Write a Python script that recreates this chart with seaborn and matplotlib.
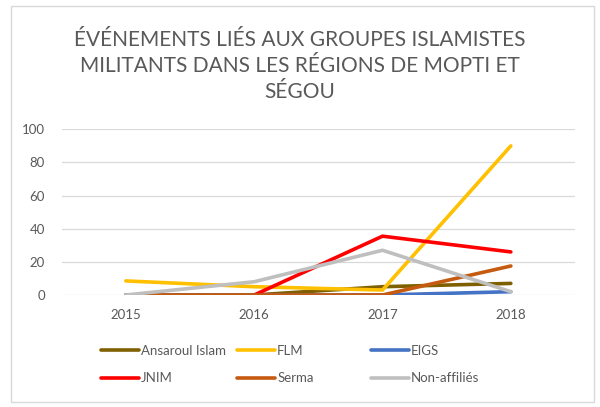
import numpy as np
import pandas as pd
import matplotlib
matplotlib.use("Agg")
import matplotlib.pyplot as plt
from matplotlib.patches import Rectangle
from matplotlib.lines import Line2D
import seaborn as sns

# ---- data ----
years = [2015, 2016, 2017, 2018]
ansaroul_islam = [0, 0, 5, 7]
flm = [8.5, 5, 3, 90]
eigs = [0, 0, 0, 2]
jnim = [np.nan, 0, 35.5, 26]
serma = [0, 0, 0, 17.5]
non_affilies = [0, 8, 27, 2]

series_names = ["Ansaroul Islam", "FLM", "EIGS", "JNIM", "Serma", "Non-affiliés"]
series_values = [ansaroul_islam, flm, eigs, jnim, serma, non_affilies]
colors = ["#7F6000", "#FFC000", "#4472C4", "#FF0000", "#C55A11", "#BFBFBF"]
y_ticks = [0, 20, 40, 60, 80, 100]
title = "ÉVÉNEMENTS LIÉS AUX GROUPES ISLAMISTES\nMILITANTS DANS LES RÉGIONS DE MOPTI ET\nSÉGOU"

rows = []
for name, vals in zip(series_names, series_values):
    for yr, v in zip(years, vals):
        rows.append({"year": yr, "value": v, "groupe": name})
df = pd.DataFrame(rows)

sns.set_theme(style="white")
plt.rcParams["font.family"] = ["Lato", "DejaVu Sans"]

W, H = 600, 407
fig = plt.figure(figsize=(W / 100, H / 100), dpi=100)
ax = fig.add_axes([61.7 / W, (H - 295) / H, (575 - 61.7) / W, (295 - 129.3) / H])

palette = dict(zip(series_names, colors))
sns.lineplot(data=df, x="year", y="value", hue="groupe", hue_order=series_names,
             palette=palette, linewidth=2.6, ax=ax, legend=False, sort=False)
for ln in ax.get_lines():
    ln.set_solid_capstyle("round")
    ln.set_solid_joinstyle("round")

ax.set_xlim(2014.5, 2018.5)
ax.set_ylim(0, 100)
ax.set_xticks(years)
ax.set_xticklabels([str(y) for y in years])
ax.set_yticks(y_ticks)
ax.set_yticklabels([str(t) for t in y_ticks])
ax.set_xlabel("")
ax.set_ylabel("")
ax.yaxis.grid(True, color="#D9D9D9", linewidth=0.9)
ax.set_axisbelow(True)
for s in ax.spines.values():
    s.set_visible(False)
ax.tick_params(axis="both", length=0, labelsize=9.5, labelcolor="#595959")
ax.tick_params(axis="y", pad=12)
ax.tick_params(axis="x", pad=10)

# title
fig.text(0.5, (H - 66) / H, title, ha="center", va="center", fontsize=15,
         color="#595959", linespacing=1.38, fontweight="normal")

# border
fig.patches.append(Rectangle((11 / W, 5 / H), (594 - 11) / W, (401 - 5) / H,
                             transform=fig.transFigure, fill=False,
                             edgecolor="#D9D9D9", linewidth=1))

# legend: three columns of two rows
col_x = [101, 237, 371]
for c in range(3):
    idx = [c, c + 3]
    handles = [Line2D([0], [0], color=colors[i], linewidth=2.6, solid_capstyle="round")
               for i in idx]
    leg = fig.legend(handles, [series_names[i] for i in idx],
                     loc="upper left", bbox_to_anchor=(col_x[c] / W, (H - 345) / H),
                     frameon=False, fontsize=9.5, handlelength=2.9, handletextpad=0.15,
                     labelspacing=1.17, borderaxespad=0, borderpad=0)
    for t in leg.get_texts():
        t.set_color("#595959")

fig.savefig("out.png", dpi=100)
